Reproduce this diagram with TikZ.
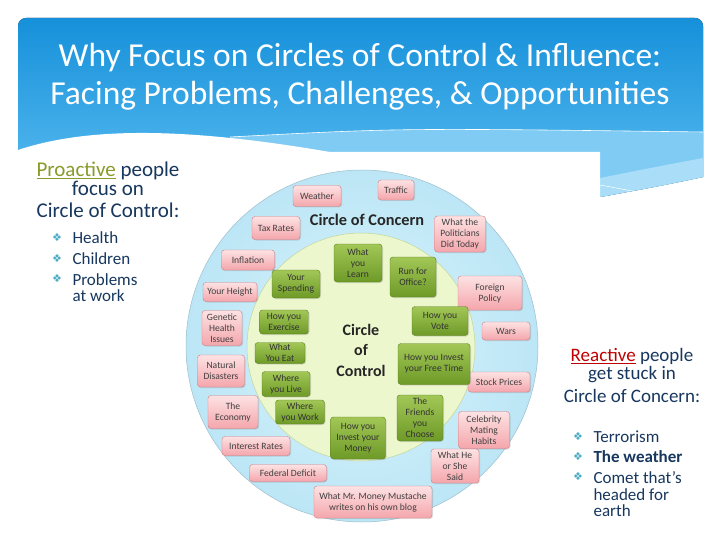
\documentclass[tikz,border=0pt]{standalone}
\usepackage{fontspec}
\setmainfont{Carlito}
\newfontfamily\symfont{DejaVu Sans}
\usetikzlibrary{shadows}
\definecolor{hdrTop}{HTML}{1690DA}
\definecolor{hdrBot}{HTML}{5BBDF1}
\definecolor{bandLight}{HTML}{7FCBF3}
\definecolor{bandPale}{HTML}{A9DDF8}
\definecolor{concernIn}{HTML}{D9F3FB}
\definecolor{concernOut}{HTML}{BCE6F6}
\definecolor{concernEdge}{HTML}{9DBFCC}
\definecolor{controlGreen}{HTML}{EDF7CE}
\definecolor{controlEdge}{HTML}{C2D69A}
\definecolor{pinkTop}{HTML}{FDE2E3}
\definecolor{pinkBot}{HTML}{F4A6AC}
\definecolor{pinkEdge}{HTML}{D27C83}
\definecolor{leafTop}{HTML}{A2C757}
\definecolor{leafBot}{HTML}{6E9A28}
\definecolor{leafEdge}{HTML}{5A7E1F}
\definecolor{navy}{HTML}{17375E}
\definecolor{proGreen}{HTML}{8A9B2B}
\definecolor{reRed}{HTML}{C00000}
\definecolor{bulletBlue}{HTML}{4BACC6}
\tikzset{
  concern/.style={draw=pinkEdge, top color=pinkTop, bottom color=pinkBot,
    rounded corners=3pt, align=center, inner sep=1pt, text=black!75,
    font=\fontsize{9.6}{11}\selectfont,
    drop shadow={opacity=0.25, shadow xshift=1pt, shadow yshift=-1pt}},
  control/.style={draw=leafEdge, top color=leafTop, bottom color=leafBot,
    rounded corners=3pt, align=center, inner sep=1pt, text=black!80,
    font=\fontsize{9.6}{11}\selectfont,
    drop shadow={opacity=0.25, shadow xshift=1pt, shadow yshift=-1pt}},
  lefttext/.style={text=navy, align=center, font=\fontsize{21}{19}\selectfont},
  righttext/.style={text=navy, align=center, font=\fontsize{19}{17.5}\selectfont},
  bulletmark/.style={text=bulletBlue, font=\symfont\fontsize{11}{11}\selectfont},
  itemtext/.style={text=navy, anchor=west, align=left, font=\fontsize{17}{16.5}\selectfont}
}
\begin{document}
\begin{tikzpicture}[x=1pt,y=-1pt]
\useasboundingbox (0,0) rectangle (720,540);
\fill[white] (0,0) rectangle (720,540);
% header
\fill[top color=hdrTop, bottom color=hdrBot]
  {[rounded corners=8pt] (18,160) -- (18,18) -- (703,18) -- (703,100)}
  -- (703,177) .. controls (660,186) .. (600,197) -- (18,197) -- cycle;
\fill[bandLight] (230,137) .. controls (400,128) .. (703,132)
  -- (703,177) .. controls (660,186) .. (600,197) -- (230,197) -- cycle;
\fill[bandPale] (600,178) .. controls (650,168) .. (703,158)
  -- (703,177) .. controls (660,186) .. (600,197) -- cycle;
\draw[white, line width=0.6pt] (230,137) .. controls (400,128) .. (703,132);
\draw[white, line width=0.5pt] (600,185) -- (643,193);
\fill[white] (18,150) .. controls (90,126) and (190,128) .. (330,152)
  -- (600,152) -- (600,540) -- (18,540) -- cycle;
\node[text=white, font=\fontsize{33.5}{35}\selectfont] (title1) at (360,58)
  {Why Focus on Circles of Control \& Influence:};
\node[text=white, font=\fontsize{33.5}{35}\selectfont] (title2) at (360,96)
  {Facing Problems, Challenges, \& Opportunities};
% circles
\shade[inner color=concernIn, outer color=concernOut] (362,346) circle (176);
\draw[concernEdge, line width=0.5pt] (362,346) circle (176);
\filldraw[fill=controlGreen, draw=controlEdge, line width=0.5pt] (361,347) circle (114);
\node[font=\bfseries\fontsize{16.3}{18}\selectfont, text=black!85] (concernlabel) at (367,220) {Circle of Concern};
\node[font=\bfseries\fontsize{16}{20.5}\selectfont, text=black!85, align=center] (controllabel) at (361,350) {Circle\\of\\Control};
% circle of concern
\node[concern, minimum width=48, minimum height=21] (weather) at (317,196) {Weather};
\node[concern, minimum width=36, minimum height=20] (traffic) at (396,190) {Traffic};
\node[concern, minimum width=48, minimum height=23] (taxrates) at (276,228) {Tax Rates};
\node[concern, minimum width=51, minimum height=36] (politicians) at (460,234) {What the\\Politicians\\Did Today};
\node[concern, minimum width=53, minimum height=20] (inflation) at (248,260) {Inflation};
\node[concern, minimum width=54, minimum height=19] (height) at (230,292) {Your Height};
\node[concern, minimum width=64, minimum height=34] (foreign) at (490,293) {Foreign\\Policy};
\node[concern, minimum width=40, minimum height=35] (genetic) at (222,328) {Genetic\\Health\\Issues};
\node[concern, minimum width=48, minimum height=18] (wars) at (506,331) {Wars};
\node[concern, minimum width=47, minimum height=32] (disasters) at (221,371) {Natural\\Disasters};
\node[concern, minimum width=62, minimum height=20] (stocks) at (499,382) {Stock Prices};
\node[concern, minimum width=50, minimum height=33] (economy) at (233,412) {The\\Economy};
\node[concern, minimum width=51, minimum height=37] (celebrity) at (484,430) {Celebrity\\Mating\\Habits};
\node[concern, minimum width=68, minimum height=19] (interest) at (256,446) {Interest Rates};
\node[concern, minimum width=48, minimum height=34] (hesaid) at (455,466) {What He\\or She\\Said};
\node[concern, minimum width=77, minimum height=17] (deficit) at (288,473) {Federal Deficit};
\node[concern, minimum width=118, minimum height=32] (mustache) at (373,502) {What Mr. Money Mustache\\writes on his own blog};
% circle of control
\node[control, minimum width=48, minimum height=38] (learn) at (358,263) {What\\you\\Learn};
\node[control, minimum width=46, minimum height=40] (office) at (413,277) {Run for\\Office?};
\node[control, minimum width=48, minimum height=28] (spending) at (296,284) {Your\\Spending};
\node[control, minimum width=49, minimum height=24] (exercise) at (284,322) {How you\\Exercise};
\node[control, minimum width=56, minimum height=29] (vote) at (440,321) {How you\\Vote};
\node[control, minimum width=50, minimum height=21] (eat) at (280,353) {What\\You Eat};
\node[control, minimum width=72, minimum height=41] (freetime) at (434,364) {How you Invest\\your Free Time};
\node[control, minimum width=48, minimum height=25] (live) at (286,384) {Where\\you Live};
\node[control, minimum width=49, minimum height=24] (work) at (300,412) {Where\\you Work};
\node[control, minimum width=46, minimum height=46] (friends) at (420,418) {The\\Friends\\you\\Choose};
\node[control, minimum width=55, minimum height=42] (money) at (358,438) {How you\\Invest your\\Money};
% proactive side
\node[lefttext] (proactive) at (108,178.5) {\textcolor{proGreen}{\underline{Proactive}} people\\focus on};
\node[lefttext] (controlhead) at (108,210) {Circle of Control:};
\node[bulletmark] (pb1) at (57,238) {❖};
\node[itemtext] (health) at (69,238) {Health};
\node[bulletmark] (pb2) at (57,259) {❖};
\node[itemtext] (children) at (69,259) {Children};
\node[bulletmark] (pb3) at (57,279) {❖};
\node[itemtext, anchor=north west] (problems) at (69,270) {Problems\\at work};
% reactive side
\node[righttext] (reactive) at (632,365.5) {\textcolor{reRed}{\underline{Reactive}} people\\get stuck in};
\node[righttext] (concernhead) at (632,396) {Circle of Concern:};
\node[bulletmark] (rb1) at (578,437) {❖};
\node[itemtext] (terrorism) at (590,437) {Terrorism};
\node[bulletmark] (rb2) at (578,457) {❖};
\node[itemtext, font=\bfseries\fontsize{17}{16.5}\selectfont] (weatherbold) at (590,457) {The weather};
\node[bulletmark] (rb3) at (578,477) {❖};
\node[itemtext, anchor=north west] (comet) at (590,468) {Comet that’s\\headed for\\earth};
\end{tikzpicture}
\end{document}
